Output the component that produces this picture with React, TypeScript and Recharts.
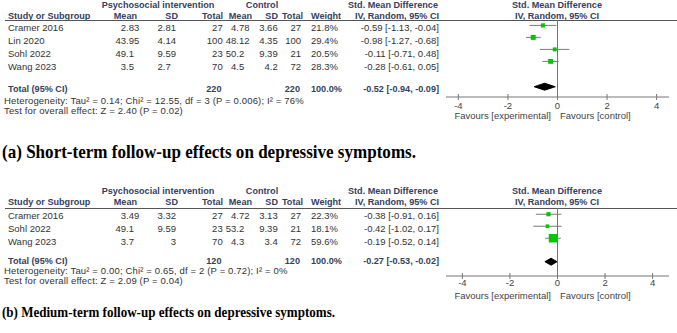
import React from 'react';
import { ScatterChart, Scatter, XAxis, YAxis, ErrorBar, ReferenceLine } from 'recharts';

// ---------- Panel (a): short-term ----------
const studiesA = ['Cramer 2016', 'Lin 2020', 'Sohl 2022', 'Wang 2023'];
const intMeanA = ['2.83', '43.95', '49.1', '3.5'];
const intSdA = ['2.81', '4.14', '9.59', '2.7'];
const intNA = [27, 100, 23, 70];
const ctlMeanA = ['4.78', '48.12', '50.2', '4.5'];
const ctlSdA = ['3.66', '4.35', '9.39', '4.2'];
const ctlNA = [27, 100, 21, 72];
const weightA = [21.8, 29.4, 20.5, 28.3];
const smdA = [-0.59, -0.98, -0.11, -0.28];
const loA = [-1.13, -1.27, -0.71, -0.61];
const hiA = [-0.04, -0.68, 0.48, 0.05];
const totalA = { smd: -0.52, lo: -0.94, hi: -0.09, nInt: 220, nCtl: 220 };
const hetA = 'Heterogeneity: Tau\u00B2 = 0.14; Chi\u00B2 = 12.55, df = 3 (P = 0.006); I\u00B2 = 76%';
const testA = 'Test for overall effect: Z = 2.40 (P = 0.02)';
const captionA = '(a) Short-term follow-up effects on depressive symptoms.';

// ---------- Panel (b): medium-term ----------
const studiesB = ['Cramer 2016', 'Sohl 2022', 'Wang 2023'];
const intMeanB = ['3.49', '49.1', '3.7'];
const intSdB = ['3.32', '9.59', '3'];
const intNB = [27, 23, 70];
const ctlMeanB = ['4.72', '53.2', '4.3'];
const ctlSdB = ['3.13', '9.39', '3.4'];
const ctlNB = [27, 21, 72];
const weightB = [22.3, 18.1, 59.6];
const smdB = [-0.38, -0.42, -0.19];
const loB = [-0.91, -1.02, -0.52];
const hiB = [0.16, 0.17, 0.14];
const totalB = { smd: -0.27, lo: -0.53, hi: -0.02, nInt: 120, nCtl: 120 };
const hetB = 'Heterogeneity: Tau\u00B2 = 0.00; Chi\u00B2 = 0.65, df = 2 (P = 0.72); I\u00B2 = 0%';
const testB = 'Test for overall effect: Z = 2.09 (P = 0.04)';
const captionB = '(b) Medium-term follow-up effects on depressive symptoms.';

const axisTicks = [-4, -2, 0, 2, 4];
const favoursLeft = 'Favours [experimental]';
const favoursRight = 'Favours [control]';

// ---------- styling / layout ----------
const FONT = '"Liberation Sans", Arial, Helvetica, sans-serif';
const SERIF = '"Liberation Serif", "Times New Roman", serif';
const HEAD = '#34405e';
const BODY = '#333333';
const BODY_FS = 9.5;
const HEAD_FS = 9.1;
const NOTE_FS = 9.5;
const DIGIT = 5.3;
const ROW_PX = 12;
const DIA_H = 0.29;
const CH_LEFT = 400;
const CH_W = 277;

const layoutA = {
  h1: 7.5, h2: 19, line: 20.5, row0: 30.5, rowStep: 13.33, total: 91.5, het: 104, test: 114.2,
  favours: 119, caption: 158, capSize: 19, capLen: 414,
  chartTop: 20, axisY: 97, domain: 4.5, mk0: 0.45, totalRow: 5.56, tickLabel: 12,
};
const layoutB = {
  h1: 194.2, h2: 205.2, line: 208.5, row0: 219.2, rowStep: 12.9, total: 264.2, het: 274, test: 284.2,
  favours: 299, caption: 317, capSize: 15, capLen: 333,
  chartTop: 208, axisY: 276, domain: 4.69, mk0: 0.52, totalRow: 4.475, tickLabel: 9.7,
};

const panels = [
  { studies: studiesA, intMean: intMeanA, intSd: intSdA, intN: intNA, ctlMean: ctlMeanA, ctlSd: ctlSdA, ctlN: ctlNA,
    weight: weightA, smd: smdA, lo: loA, hi: hiA, total: totalA, het: hetA, test: testA, caption: captionA, L: layoutA },
  { studies: studiesB, intMean: intMeanB, intSd: intSdB, intN: intNB, ctlMean: ctlMeanB, ctlSd: ctlSdB, ctlN: ctlNB,
    weight: weightB, smd: smdB, lo: loB, hi: hiB, total: totalB, het: hetB, test: testB, caption: captionB, L: layoutB },
];

const fmtW = (w: number) => w.toFixed(1) + '%';
const fmtCI = (m: number, l: number, h: number) => `${m.toFixed(2)} [${l.toFixed(2)}, ${h.toFixed(2)}]`;
const decOffset = (s: string) => {
  const i = s.indexOf('.');
  if (i < 0) return 0;
  return (2 - (s.length - i - 1)) * DIGIT;
};

function TableText({ p }: { p: any }) {
  const L = p.L;
  const head = { fill: HEAD, fontWeight: 700, fontSize: HEAD_FS };
  const body = { fill: BODY, fontSize: BODY_FS };
  const note = { fill: BODY, fontSize: NOTE_FS, letterSpacing: 0.15 };
  return (
    <g fontFamily={FONT}>
      <text x={158} y={L.h1} textAnchor="middle" {...head}>Psychosocial intervention</text>
      <text x={262} y={L.h1} textAnchor="middle" {...head}>Control</text>
      <text x={348} y={L.h1} {...head}>Std. Mean Difference</text>
      <text x={557} y={L.h1} textAnchor="middle" {...head}>Std. Mean Difference</text>

      <text x={8} y={L.h2} {...head}>Study or Subgroup</text>
      <text x={137} y={L.h2} textAnchor="end" {...head}>Mean</text>
      <text x={178} y={L.h2} textAnchor="end" {...head}>SD</text>
      <text x={223} y={L.h2} textAnchor="end" {...head}>Total</text>
      <text x={252} y={L.h2} textAnchor="end" {...head}>Mean</text>
      <text x={278} y={L.h2} textAnchor="end" {...head}>SD</text>
      <text x={303} y={L.h2} textAnchor="end" {...head}>Total</text>
      <text x={311} y={L.h2} {...head}>Weight</text>
      <text x={439} y={L.h2} textAnchor="end" {...head}>IV, Random, 95% CI</text>
      <text x={557} y={L.h2} textAnchor="middle" {...head}>IV, Random, 95% CI</text>

      <line x1={5} x2={677} y1={L.line} y2={L.line} stroke="#555" strokeWidth={1} />

      {p.studies.map((s: string, i: number) => {
        const y = L.row0 + i * L.rowStep;
        return (
          <g key={s}>
            <text x={8} y={y} {...body}>{s}</text>
            <text x={139.3 - decOffset(p.intMean[i])} y={y} textAnchor="end" {...body}>{p.intMean[i]}</text>
            <text x={176 - decOffset(p.intSd[i])} y={y} textAnchor="end" {...body}>{p.intSd[i]}</text>
            <text x={222.7} y={y} textAnchor="end" {...body}>{p.intN[i]}</text>
            <text x={249.5 - decOffset(p.ctlMean[i])} y={y} textAnchor="end" {...body}>{p.ctlMean[i]}</text>
            <text x={277.7} y={y} textAnchor="end" {...body}>{p.ctlSd[i]}</text>
            <text x={301} y={y} textAnchor="end" {...body}>{p.ctlN[i]}</text>
            <text x={311} y={y} {...body}>{fmtW(p.weight[i])}</text>
            <text x={439} y={y} textAnchor="end" {...body}>{fmtCI(p.smd[i], p.lo[i], p.hi[i])}</text>
          </g>
        );
      })}

      <text x={8} y={L.total} {...head}>Total (95% CI)</text>
      <text x={221.5} y={L.total} textAnchor="end" {...head}>{p.total.nInt}</text>
      <text x={300} y={L.total} textAnchor="end" {...head}>{p.total.nCtl}</text>
      <text x={311} y={L.total} {...head}>100.0%</text>
      <text x={439} y={L.total} textAnchor="end" {...head}>{fmtCI(p.total.smd, p.total.lo, p.total.hi)}</text>

      <text x={4} y={L.het} {...note}>{p.het}</text>
      <text x={4} y={L.test} {...note}>{p.test}</text>

      <text x={551} y={L.favours} textAnchor="end" fill="#444" fontSize={BODY_FS}>{favoursLeft}</text>
      <text x={560} y={L.favours} fill="#444" fontSize={BODY_FS}>{favoursRight}</text>

      <text x={2} y={L.caption} fontFamily={SERIF} fontWeight={700} fontSize={L.capSize} fill="#000"
        textLength={L.capLen} lengthAdjust="spacingAndGlyphs">{p.caption}</text>
    </g>
  );
}

const Square = (props: any) => {
  const s = 1.6 + 0.115 * props.payload.w;
  return <rect x={props.cx - s / 2} y={props.cy - s / 2} width={s} height={s} fill="#00c800" />;
};

const Empty = () => <g />;

function ForestTick(props: any) {
  const { x, y, payload, lab } = props;
  const axisY = y - 5;
  return (
    <g>
      <line x1={x} x2={x} y1={axisY - 3} y2={axisY + 3} stroke="#777" />
      <text x={x} y={axisY + lab} textAnchor="middle" fontSize={BODY_FS} fill="#444" fontFamily={FONT}>{String(payload.value)}</text>
    </g>
  );
}

function Forest({ p }: { p: any }) {
  const L = p.L;
  const plotH = L.axisY - L.chartTop;
  const D = plotH / ROW_PX;
  const rows = p.smd.map((m: number, i: number) => ({
    x: m, y: L.mk0 + i, err: [m - p.lo[i], p.hi[i] - m], w: p.weight[i],
  }));
  const t = p.total;
  const dia = [
    { x: t.lo, y: L.totalRow },
    { x: t.smd, y: L.totalRow - DIA_H },
    { x: t.hi, y: L.totalRow },
    { x: t.smd, y: L.totalRow + DIA_H },
    { x: t.lo, y: L.totalRow },
  ];
  return (
    <div style={{ position: 'absolute', left: CH_LEFT, top: L.chartTop }}>
      <ScatterChart width={CH_W} height={plotH + 20} margin={{ top: 0, right: 8, bottom: 0, left: 46 }}>
        <XAxis type="number" dataKey="x" domain={[-L.domain, L.domain]} ticks={axisTicks} allowDataOverflow
          height={20} axisLine={{ stroke: '#777' }} tickLine={false} tickSize={4} tickMargin={1} interval={0}
          tick={(tp: any) => <ForestTick {...tp} lab={L.tickLabel} />} />
        <YAxis type="number" dataKey="y" domain={[0, D]} reversed hide allowDataOverflow />
        <ReferenceLine x={0} stroke="#777" />
        <Scatter data={dia} isAnimationActive={false} line={{ fill: '#000', stroke: '#000', strokeWidth: 1 }}
          lineType="joint" shape={Empty} />
        <Scatter data={rows} isAnimationActive={false} shape={Square}>
          <ErrorBar dataKey="err" direction="x" width={0} stroke="#7a7a7a" strokeWidth={1} />
        </Scatter>
      </ScatterChart>
    </div>
  );
}

export default function App() {
  return (
    <div style={{ position: 'fixed', left: 0, top: 0, width: 677, height: 333, background: '#fff', overflow: 'hidden' }}>
      <svg width={677} height={333} style={{ position: 'absolute', left: 0, top: 0 }}>
        {panels.map((p, i) => <TableText key={i} p={p} />)}
      </svg>
      {panels.map((p, i) => <Forest key={i} p={p} />)}
    </div>
  );
}
